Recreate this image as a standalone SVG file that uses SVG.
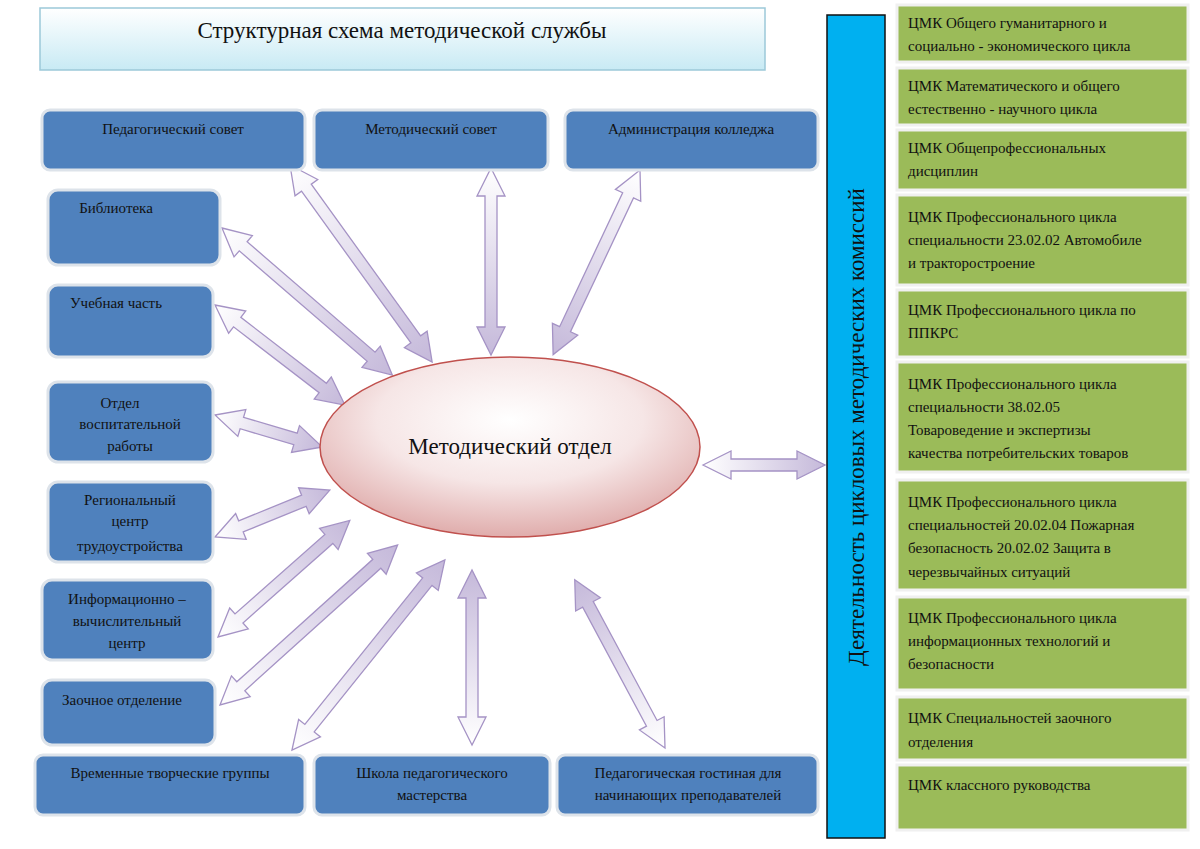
<svg xmlns="http://www.w3.org/2000/svg" width="1200" height="849" viewBox="0 0 1200 849">
<defs>
<linearGradient id="ag" x1="0" y1="0" x2="1" y2="0"><stop offset="0" stop-color="#ffffff"/><stop offset="1" stop-color="#c5b9da"/></linearGradient>
<radialGradient id="eg" cx="0.5" cy="0.35" r="0.7"><stop offset="0" stop-color="#ffffff"/><stop offset="0.5" stop-color="#f6e6e6"/><stop offset="1" stop-color="#dca3a2"/></radialGradient>
<linearGradient id="tg" x1="0" y1="0" x2="0" y2="1"><stop offset="0" stop-color="#ffffff"/><stop offset="1" stop-color="#c8eaf4"/></linearGradient>
</defs>
<style>
text{font-family:'Liberation Serif','DejaVu Serif','Times New Roman',serif;fill:#111}
.b{fill:#4f81bd;stroke:#dde3ea;stroke-width:3}
.g{fill:#9bbb59;stroke:#f0f0f0;stroke-width:3}
.t{font-size:15px;text-anchor:middle}
.gt{font-size:15px}
.big{font-size:23px;text-anchor:middle}
.a{fill:url(#ag);stroke:#a593c5;stroke-width:1.3}
</style>
<rect width="1200" height="849" fill="#fff"/>
<g id="title"><rect x="40" y="8" width="725" height="62" fill="url(#tg)" stroke="#9cc9d9" stroke-width="1.5"/><text class="big" x="402" y="38">Структурная схема методической службы</text></g>
<g id="connectors">
<path class="a" transform="translate(290,165) rotate(54.2)" d="M0,0 L28,-14 L28,-6 L215,-6 L215,-14 L243,0 L215,14 L215,6 L28,6 L28,14 Z"/>
<path class="a" transform="translate(491,168) rotate(90)" d="M0,0 L28,-14 L28,-6 L159,-6 L159,-14 L187,0 L159,14 L159,6 L28,6 L28,14 Z"/>
<path class="a" transform="translate(640,170) rotate(115.2)" d="M0,0 L28,-14 L28,-6 L176,-6 L176,-14 L204,0 L176,14 L176,6 L28,6 L28,14 Z"/>
<path class="a" transform="translate(222,228) rotate(40.8)" d="M0,0 L28,-14 L28,-6 L197,-6 L197,-14 L225,0 L197,14 L197,6 L28,6 L28,14 Z"/>
<path class="a" transform="translate(215,305) rotate(37.6)" d="M0,0 L28,-14 L28,-6 L136,-6 L136,-14 L164,0 L136,14 L136,6 L28,6 L28,14 Z"/>
<path class="a" transform="translate(215,415) rotate(16.6)" d="M0,0 L28,-14 L28,-6 L84,-6 L84,-14 L112,0 L84,14 L84,6 L28,6 L28,14 Z"/>
<path class="a" transform="translate(215,537) rotate(-22.2)" d="M0,0 L28,-14 L28,-6 L96,-6 L96,-14 L124,0 L96,14 L96,6 L28,6 L28,14 Z"/>
<path class="a" transform="translate(218,637) rotate(-41.5)" d="M0,0 L28,-14 L28,-6 L148,-6 L148,-14 L176,0 L148,14 L148,6 L28,6 L28,14 Z"/>
<path class="a" transform="translate(220,705) rotate(-42)" d="M0,0 L28,-14 L28,-6 L211,-6 L211,-14 L239,0 L211,14 L211,6 L28,6 L28,14 Z"/>
<path class="a" transform="translate(292,750) rotate(-51.2)" d="M0,0 L28,-14 L28,-6 L216,-6 L216,-14 L244,0 L216,14 L216,6 L28,6 L28,14 Z"/>
<path class="a" transform="translate(472,745) rotate(-90)" d="M0,0 L28,-14 L28,-6 L147,-6 L147,-14 L175,0 L147,14 L147,6 L28,6 L28,14 Z"/>
<path class="a" transform="translate(665,748) rotate(-118.2)" d="M0,0 L28,-14 L28,-6 L163,-6 L163,-14 L191,0 L163,14 L163,6 L28,6 L28,14 Z"/>
<path class="a" transform="translate(703,465)" d="M0,0 L28,-14 L28,-6 L94,-6 L94,-14 L122,0 L94,14 L94,6 L28,6 L28,14 Z"/>
</g>
<g id="center"><ellipse cx="510" cy="447" rx="190" ry="90" fill="url(#eg)" stroke="#c0504d" stroke-width="1.5"/><text class="big" x="510" y="454">Методический отдел</text></g>
<g id="n1"><rect class="b" x="42" y="110" width="263" height="60" rx="8"/><text class="t" x="173" y="134">Педагогический совет</text></g>
<g id="n2"><rect class="b" x="314" y="110" width="234" height="60" rx="8"/><text class="t" x="431" y="134">Методический совет</text></g>
<g id="n3"><rect class="b" x="565" y="110" width="253" height="60" rx="8"/><text class="t" x="691" y="134">Администрация колледжа</text></g>
<g id="n4"><rect class="b" x="48" y="190" width="172" height="75" rx="10"/><text class="t" x="116" y="213">Библиотека</text></g>
<g id="n5"><rect class="b" x="48" y="285" width="165" height="72" rx="10"/><text class="t" x="116" y="308">Учебная часть</text></g>
<g id="n6"><rect class="b" x="48" y="382" width="165" height="80" rx="10"/><text class="t" x="120" y="408">Отдел</text><text class="t" x="130" y="429">воспитательной</text><text class="t" x="130" y="451">работы</text></g>
<g id="n7"><rect class="b" x="48" y="482" width="165" height="80" rx="10"/><text class="t" x="130" y="505">Региональный</text><text class="t" x="130" y="526">центр</text><text class="t" x="130" y="551">трудоустройства</text></g>
<g id="n8"><rect class="b" x="42" y="580" width="171" height="80" rx="10"/><text class="t" x="127" y="604">Информационно –</text><text class="t" x="127" y="626">вычислительный</text><text class="t" x="127" y="648">центр</text></g>
<g id="n9"><rect class="b" x="42" y="680" width="173" height="65" rx="10"/><text class="t" x="122" y="705">Заочное отделение</text></g>
<g id="n10"><rect class="b" x="35" y="755" width="270" height="60" rx="8"/><text class="t" x="170" y="778">Временные творческие группы</text></g>
<g id="n11"><rect class="b" x="314" y="755" width="236" height="60" rx="8"/><text class="t" x="432" y="778">Школа педагогического</text><text class="t" x="432" y="800">мастерства</text></g>
<g id="n12"><rect class="b" x="557" y="755" width="261" height="60" rx="8"/><text class="t" x="688" y="778">Педагогическая гостиная для</text><text class="t" x="688" y="800">начинающих преподавателей</text></g>
<g id="side"><rect x="827" y="15" width="58" height="823" fill="#00b0f0" stroke="#111" stroke-width="1.5"/><text class="big" transform="translate(864,427) rotate(-90)">Деятельность цикловых методических комиссий</text></g>
<g id="c1"><rect class="g" x="897" y="5" width="291" height="57"/><text class="gt" x="908" y="28">ЦМК Общего гуманитарного и</text><text class="gt" x="908" y="51">социально - экономического цикла</text></g>
<g id="c2"><rect class="g" x="897" y="68" width="291" height="57"/><text class="gt" x="908" y="91">ЦМК Математического и общего</text><text class="gt" x="908" y="114">естественно - научного цикла</text></g>
<g id="c3"><rect class="g" x="897" y="130" width="291" height="60"/><text class="gt" x="908" y="153">ЦМК Общепрофессиональных</text><text class="gt" x="908" y="176">дисциплин</text></g>
<g id="c4"><rect class="g" x="897" y="195" width="291" height="90"/><text class="gt" x="908" y="222">ЦМК Профессионального цикла</text><text class="gt" x="908" y="245">специальности 23.02.02 Автомобиле</text><text class="gt" x="908" y="268">и тракторостроение</text></g>
<g id="c5"><rect class="g" x="897" y="290" width="291" height="67"/><text class="gt" x="908" y="315">ЦМК Профессионального цикла по</text><text class="gt" x="908" y="338">ППКРС</text></g>
<g id="c6"><rect class="g" x="897" y="362" width="291" height="110"/><text class="gt" x="908" y="389">ЦМК Профессионального цикла</text><text class="gt" x="908" y="412">специальности 38.02.05</text><text class="gt" x="908" y="435">Товароведение и экспертизы</text><text class="gt" x="908" y="458">качества потребительских товаров</text></g>
<g id="c7"><rect class="g" x="897" y="480" width="291" height="110"/><text class="gt" x="908" y="507">ЦМК Профессионального цикла</text><text class="gt" x="908" y="530">специальностей 20.02.04 Пожарная</text><text class="gt" x="908" y="553">безопасность 20.02.02 Защита в</text><text class="gt" x="908" y="577">черезвычайных ситуаций</text></g>
<g id="c8"><rect class="g" x="897" y="597" width="291" height="93"/><text class="gt" x="908" y="623">ЦМК Профессионального цикла</text><text class="gt" x="908" y="646">информационных технологий и</text><text class="gt" x="908" y="669">безопасности</text></g>
<g id="c9"><rect class="g" x="897" y="697" width="291" height="63"/><text class="gt" x="908" y="723">ЦМК Специальностей заочного</text><text class="gt" x="908" y="747">отделения</text></g>
<g id="c10"><rect class="g" x="897" y="765" width="291" height="65"/><text class="gt" x="908" y="790">ЦМК классного руководства</text></g>
</svg>
